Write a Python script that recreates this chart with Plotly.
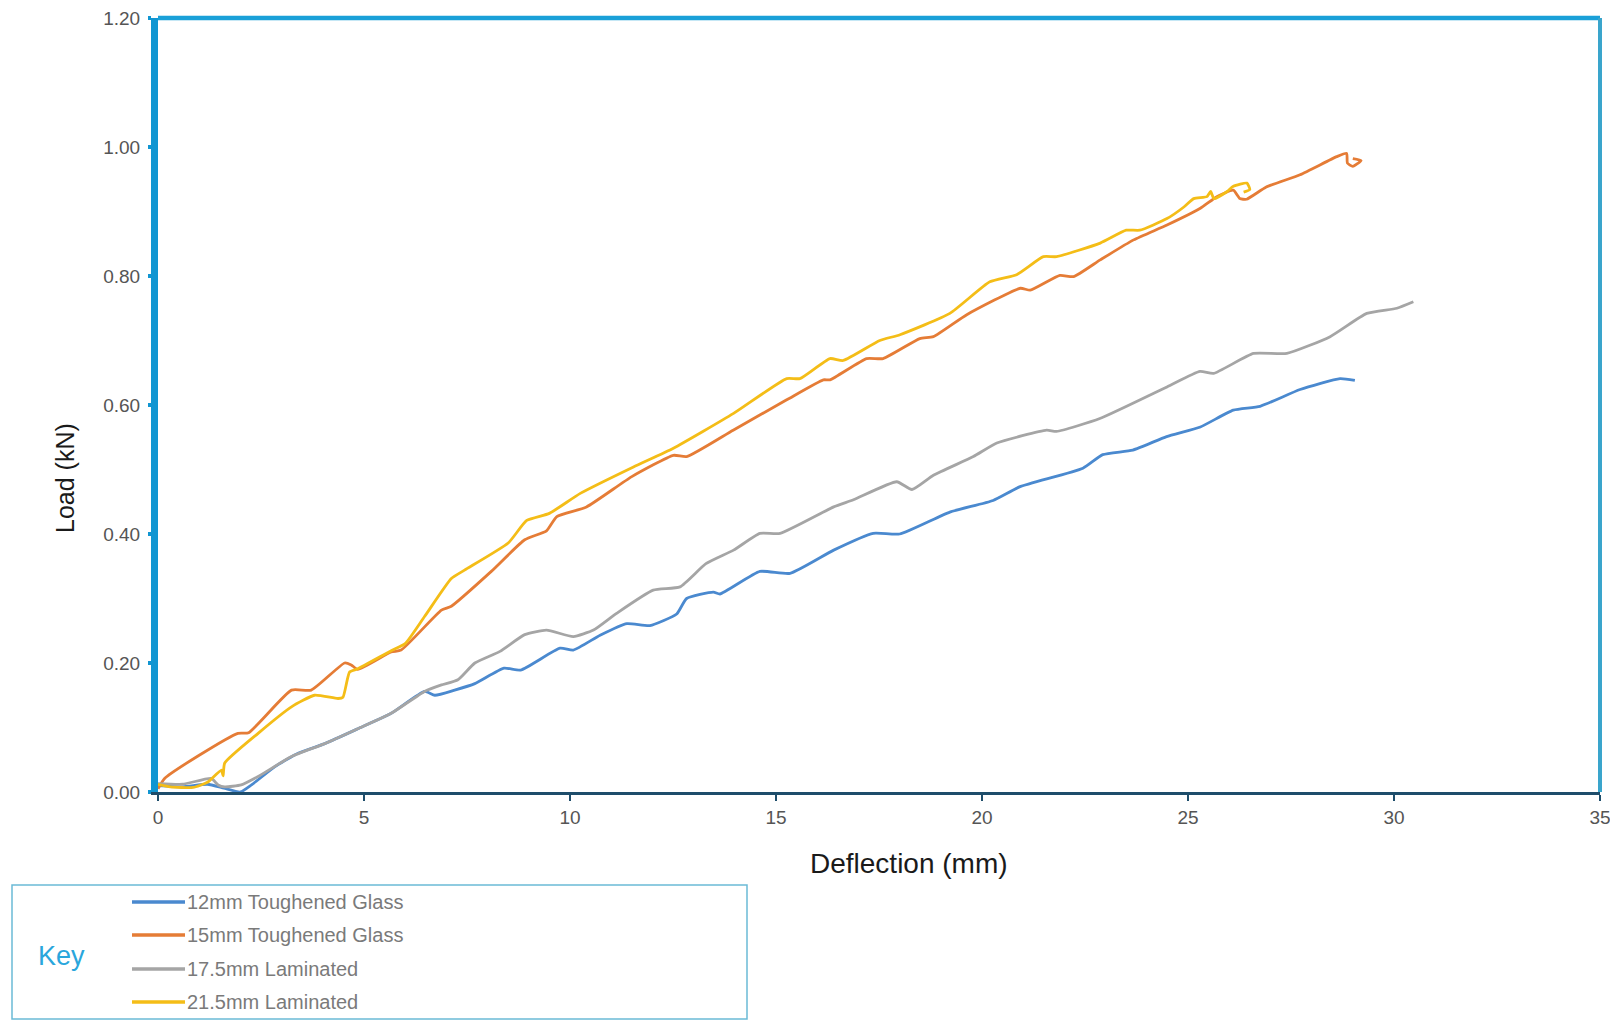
import plotly.graph_objects as go

# ---------------- data ----------------
series_names = ["12mm Toughened Glass", "15mm Toughened Glass",
                "17.5mm Laminated", "21.5mm Laminated"]
series_colors = ["#4a89cf", "#e57c36", "#a5a5a5", "#f4bd17"]

x_12mm = [0, 0.6, 1.2, 1.6, 2.0, 2.27, 2.83, 3.4, 4.05, 4.85, 5.66, 6.47, 6.72, 7.2, 7.69,
          8.4, 8.8, 9.76, 10.08, 10.73, 11.38, 11.94, 12.59, 12.83, 13.48, 13.64, 14.61,
          15.34, 16.4, 17.36, 18.0, 19.22, 20.27, 20.91, 22.45, 22.93, 23.66, 24.48, 25.3,
          26.1, 26.75, 27.72, 28.69, 29.05]
y_12mm = [0.01, 0.008, 0.012, 0.006, 0.0, 0.011, 0.039, 0.06, 0.075, 0.098, 0.122, 0.156,
          0.15, 0.158, 0.168, 0.192, 0.189, 0.223, 0.22, 0.243, 0.261, 0.258, 0.276, 0.3,
          0.31, 0.307, 0.342, 0.339, 0.375, 0.401, 0.4, 0.434, 0.452, 0.473, 0.502, 0.523,
          0.53, 0.551, 0.566, 0.592, 0.598, 0.624, 0.641, 0.638]

x_15mm = [0, 0.16, 1.0, 1.94, 2.2, 3.24, 3.72, 4.53, 4.69, 4.85, 5.66, 5.9, 6.88, 7.12,
          8.09, 8.9, 9.43, 9.68, 10.4, 11.5, 12.51, 12.83, 13.96, 15.26, 16.15, 16.31,
          17.2, 17.6, 18.49, 18.82, 19.63, 20.93, 21.17, 21.89, 22.22, 22.87, 23.68, 24.49,
          25.3, 25.7, 26.1, 26.26, 26.42, 26.9, 27.72, 28.61, 28.85, 28.87, 29.0, 29.2, 29.0]
y_15mm = [0.005, 0.021, 0.057, 0.091, 0.092, 0.158, 0.158, 0.2, 0.197, 0.19, 0.217, 0.22,
          0.282, 0.288, 0.342, 0.391, 0.405, 0.427, 0.442, 0.489, 0.522, 0.52, 0.561, 0.608,
          0.639, 0.639, 0.672, 0.672, 0.703, 0.706, 0.74, 0.781, 0.778, 0.801, 0.799, 0.825,
          0.856, 0.879, 0.905, 0.923, 0.933, 0.92, 0.919, 0.938, 0.957, 0.985, 0.99, 0.975,
          0.97, 0.979, 0.982]

x_17mm = [0, 0.6, 1.29, 1.46, 1.62, 2.02, 2.43, 3.24, 4.05, 4.85, 5.66, 6.47, 6.88, 7.28,
          7.69, 8.3, 8.9, 9.43, 10.08, 10.57, 11.13, 12.02, 12.67, 13.3, 13.97, 14.61, 15.1,
          16.4, 16.88, 17.93, 18.3, 18.82, 19.79, 20.36, 21.57, 21.81, 22.86, 24.49, 25.29,
          25.62, 26.59, 27.4, 28.45, 29.34, 30.07, 30.47]
y_17mm = [0.013, 0.012, 0.021, 0.011, 0.008, 0.011, 0.024, 0.055, 0.075, 0.098, 0.122,
          0.156, 0.166, 0.174, 0.2, 0.218, 0.244, 0.251, 0.241, 0.251, 0.277, 0.313, 0.318,
          0.354, 0.375, 0.401, 0.401, 0.442, 0.453, 0.481, 0.469, 0.491, 0.52, 0.541, 0.561,
          0.559, 0.579, 0.628, 0.652, 0.649, 0.68, 0.68, 0.706, 0.742, 0.75, 0.76]

x_21mm = [0, 0.3, 0.85, 1.2, 1.54, 1.58, 1.62, 2.43, 3.24, 3.8, 4.37, 4.49, 4.65, 4.85,
          5.66, 6.0, 6.47, 7.12, 7.44, 8.5, 8.95, 9.5, 10.25, 11.54, 12.51, 13.97, 15.26,
          15.58, 16.31, 16.63, 17.52, 18.01, 19.22, 20.19, 20.84, 21.49, 21.81, 22.87, 23.5,
          23.83, 24.49, 24.9, 25.14, 25.46, 25.55, 25.63, 25.95, 26.1, 26.43, 26.5, 26.35]
y_21mm = [0.012, 0.008, 0.007, 0.015, 0.034, 0.025, 0.045, 0.091, 0.132, 0.15, 0.145,
          0.147, 0.186, 0.191, 0.219, 0.23, 0.272, 0.331, 0.344, 0.386, 0.421, 0.432, 0.463,
          0.504, 0.533, 0.587, 0.641, 0.641, 0.672, 0.669, 0.7, 0.709, 0.742, 0.791, 0.802,
          0.83, 0.83, 0.851, 0.871, 0.871, 0.889, 0.907, 0.92, 0.923, 0.931, 0.92, 0.931,
          0.939, 0.944, 0.934, 0.93]

x_ticks = [0, 5, 10, 15, 20, 25, 30, 35]
y_ticks = [0.0, 0.2, 0.4, 0.6, 0.8, 1.0, 1.2]

xs = [x_12mm, x_15mm, x_17mm, x_21mm]
ys = [y_12mm, y_15mm, y_17mm, y_21mm]

# ---------------- geometry ----------------
# page body has an 8px margin, so the figure is 8px smaller on each axis
OFF = 8
W, H = 1618 - OFF, 1022 - OFF
L, R, T, B = 158 - OFF, 18, 18 - OFF, 230
PW, PH = W - L - R, H - T - B
FONT = "Liberation Sans, Arial, sans-serif"


def px(x):  # page pixel -> paper x
    return (x - OFF - L) / PW


def py(y):  # page pixel -> paper y
    return (H - B - (y - OFF)) / PH


fig = go.Figure()
for n, c, xv, yv in zip(series_names, series_colors, xs, ys):
    fig.add_trace(go.Scatter(x=xv, y=yv, mode="lines", name=n,
                             line=dict(color=c, width=2.8, shape="spline", smoothing=0.5),
                             showlegend=False))

fig.update_layout(
    width=W, height=H,
    margin=dict(l=L, r=R, t=T, b=B, autoexpand=False),
    paper_bgcolor="white", plot_bgcolor="white",
    font=dict(family=FONT),
    xaxis=dict(range=[0, 35], tickvals=x_ticks, ticktext=[str(v) for v in x_ticks],
               showgrid=False, zeroline=False, automargin=False,
               showline=True, linecolor="#1e4d6b", linewidth=3,
               ticks="outside", ticklen=6, tickwidth=1.5, tickcolor="#1e4d6b",
               tickfont=dict(size=19, color="#555555", family=FONT),
               ticklabelstandoff=0, ticklabeloverflow="allow"),
    yaxis=dict(range=[0, 1.2], tickvals=y_ticks, tickformat=".2f",
               showgrid=False, zeroline=False, automargin=False,
               showline=True, linecolor="#1196d2", linewidth=7,
               ticks="outside", ticklen=3, tickwidth=4, tickcolor="#1196d2",
               tickfont=dict(size=19, color="#555555", family=FONT),
               ticklabelstandoff=4, ticklabeloverflow="allow"),
)

shapes = [
    # top and right border of plot area
    dict(type="line", xref="paper", yref="paper", x0=0, x1=1, y0=1, y1=1,
         line=dict(color="#1aa0d8", width=4.5), layer="above"),
    dict(type="line", xref="paper", yref="paper", x0=1, x1=1, y0=0, y1=1,
         line=dict(color="#3aa5cc", width=4), layer="above"),
    # legend box
    dict(type="rect", xref="paper", yref="paper", x0=px(12), x1=px(747),
         y0=py(885), y1=py(1019), line=dict(color="#6bbad6", width=1.5),
         fillcolor="rgba(0,0,0,0)"),
]
annotations = [
    dict(text="Deflection (mm)", xref="paper", yref="paper", x=px(909), y=py(863),
         xanchor="center", yanchor="middle", showarrow=False,
         font=dict(size=28, color="#1a1a1a", family=FONT)),
    dict(text="Load (kN)", xref="paper", yref="paper", x=px(65), y=py(478),
         xanchor="center", yanchor="middle", showarrow=False, textangle=-90,
         font=dict(size=25, color="#1a1a1a", family=FONT)),
    dict(text="Key", xref="paper", yref="paper", x=px(36), y=py(956),
         xanchor="left", yanchor="middle", showarrow=False,
         font=dict(size=27, color="#2aa6dc", family=FONT)),
]
rows = [902, 935, 969, 1002]
for n, c, ry in zip(series_names, series_colors, rows):
    shapes.append(dict(type="line", xref="paper", yref="paper",
                       x0=px(132), x1=px(185), y0=py(ry), y1=py(ry),
                       line=dict(color=c, width=3.5)))
    annotations.append(dict(text=n, xref="paper", yref="paper", x=px(185), y=py(ry),
                            xanchor="left", yanchor="middle", showarrow=False,
                            font=dict(size=20, color="#7a7a7a", family=FONT)))

fig.update_layout(shapes=shapes, annotations=annotations)
fig.write_html("out.html")
